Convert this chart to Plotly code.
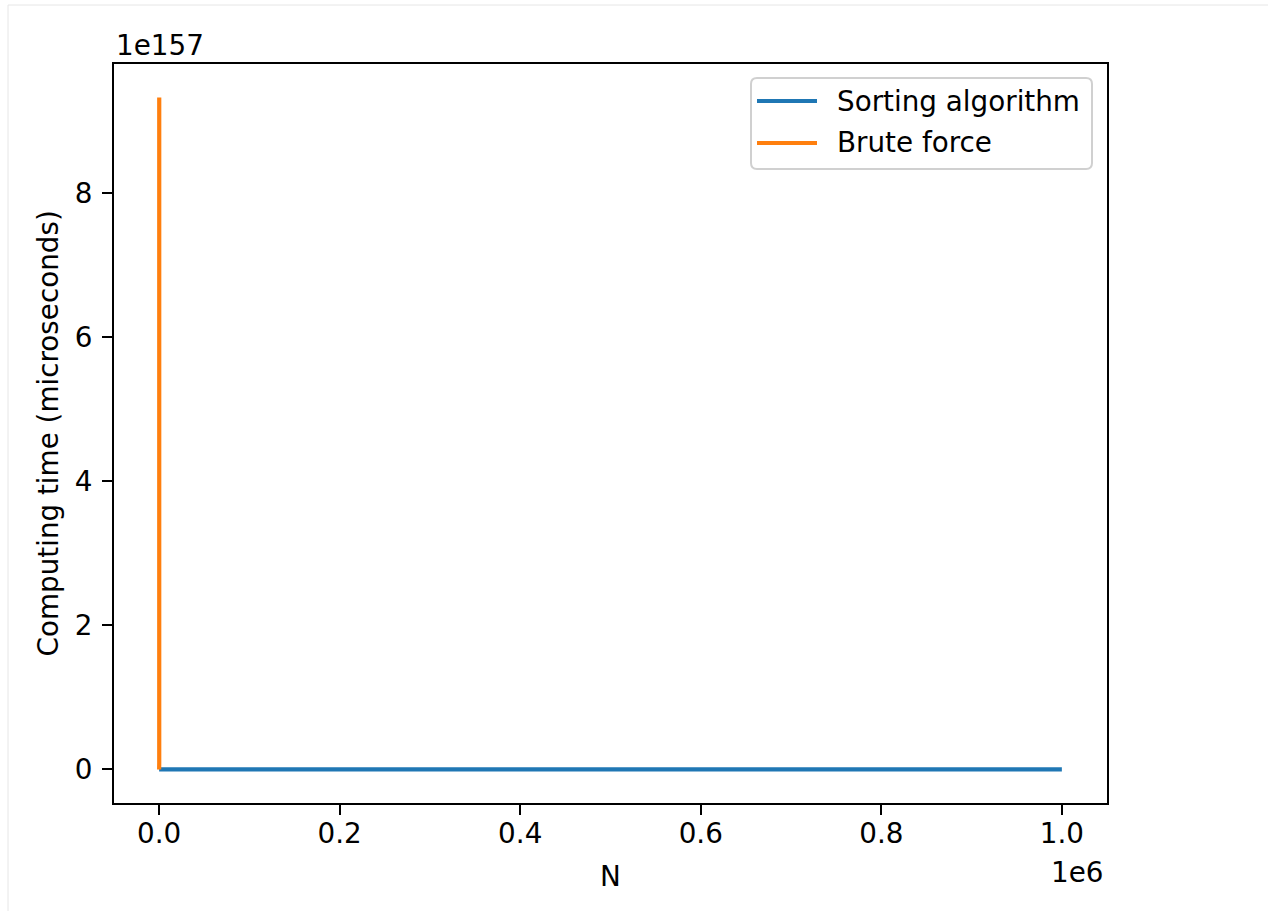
import plotly.graph_objects as go

# Problem sizes and measured computing times (microseconds)
sort_n = [1, 200000, 400000, 600000, 800000, 1000000]
sort_time = [0.0, 3.5e6, 7.4e6, 1.15e7, 1.57e7, 1.99e7]

brute_n = [1, 50, 99, 100]
brute_time = [1.0, 3.0e64, 9.33e155, 9.33e157]

series_names = ["Sorting algorithm", "Brute force"]

x_tick_vals = [0, 200000, 400000, 600000, 800000, 1000000]
x_tick_text = ["0.0", "0.2", "0.4", "0.6", "0.8", "1.0"]
y_tick_vals = [0, 2e157, 4e157, 6e157, 8e157]
y_tick_text = ["0", "2", "4", "6", "8"]

W, H = 1268, 911
PL, PR, PT, PB = 114, 1107, 64, 803  # plot-area edges in pixels

FONT = dict(family="DejaVu Sans", size=27.8, color="black")
COLORS = ["#1f77b4", "#ff7f0e"]


def px_x(px):
    return (px - PL) / (PR - PL)


def px_y(py):
    return (PB - py) / (PB - PT)


fig = go.Figure()
fig.add_trace(go.Scatter(x=sort_n, y=sort_time, mode="lines", name=series_names[0],
                         line=dict(color=COLORS[0], width=4.2), showlegend=False))
fig.add_trace(go.Scatter(x=brute_n, y=brute_time, mode="lines", name=series_names[1],
                         line=dict(color=COLORS[1], width=4.2), showlegend=False))

y_max = max(brute_time)
axis_common = dict(showgrid=False, zeroline=False, showline=True, linecolor="black",
                   linewidth=2, mirror=True, ticks="outside", ticklen=10, tickwidth=2,
                   tickcolor="black", tickfont=FONT)

# Legend box with rounded corners (pixel geometry converted to paper units)
bx0, bx1, by0, by1, rad = 751, 1092, 78, 169, 6
rx = rad / (PR - PL)
ry = rad / (PB - PT)
X0, X1, Y0, Y1 = px_x(bx0), px_x(bx1), px_y(by1), px_y(by0)
legend_path = (
    f"M {X0 + rx},{Y0} L {X1 - rx},{Y0} Q {X1},{Y0} {X1},{Y0 + ry} "
    f"L {X1},{Y1 - ry} Q {X1},{Y1} {X1 - rx},{Y1} "
    f"L {X0 + rx},{Y1} Q {X0},{Y1} {X0},{Y1 - ry} "
    f"L {X0},{Y0 + ry} Q {X0},{Y0} {X0 + rx},{Y0} Z"
)

shapes = [
    dict(type="line", xref="paper", yref="paper", x0=px_x(8), x1=px_x(8),
         y0=px_y(5), y1=px_y(H), line=dict(color="#e6e6e6", width=1), layer="below"),
    dict(type="line", xref="paper", yref="paper", x0=px_x(8), x1=px_x(W),
         y0=px_y(5), y1=px_y(5), line=dict(color="#e6e6e6", width=1), layer="below"),
    dict(type="path", xref="paper", yref="paper", path=legend_path,
         fillcolor="rgba(255,255,255,0.8)", line=dict(color="#d0d0d0", width=2)),
]

annotations = [
    dict(text="1e157", xref="paper", yref="paper", x=0, y=1, xanchor="left",
         yanchor="middle", yshift=19, showarrow=False, font=FONT),
    dict(text="1e6", xref="paper", yref="paper", x=1, y=0, xanchor="right",
         yanchor="middle", xshift=-2, yshift=-69, showarrow=False, font=FONT),
    dict(text="N", xref="paper", yref="paper", x=0.5, y=0, xanchor="center",
         yanchor="middle", yshift=-73, showarrow=False, font=FONT),
    dict(text="Computing time (microseconds)", xref="paper", yref="paper", x=0, y=0.5,
         xanchor="center", yanchor="middle", xshift=-66, textangle=-90,
         showarrow=False, font=FONT),
]

row_y = [101, 143]
for name, color, ry_px in zip(series_names, COLORS, row_y):
    shapes.append(dict(type="line", xref="paper", yref="paper", x0=px_x(757), x1=px_x(817),
                       y0=px_y(ry_px), y1=px_y(ry_px), line=dict(color=color, width=4.2)))
    annotations.append(dict(text=name, xref="paper", yref="paper", x=px_x(835), y=px_y(ry_px),
                            xanchor="left", yanchor="middle", showarrow=False, font=FONT))

fig.update_layout(
    width=W, height=H,
    margin=dict(l=PL, r=W - PR, t=PT, b=H - PB),
    paper_bgcolor="white", plot_bgcolor="white",
    font=FONT,
    xaxis=dict(range=[-50000, 1050000], tickvals=x_tick_vals, ticktext=x_tick_text,
               ticklabelstandoff=-5, **axis_common),
    yaxis=dict(range=[-0.05 * y_max, 1.05 * y_max], tickvals=y_tick_vals, ticktext=y_tick_text,
               ticklabelstandoff=4, **axis_common),
    showlegend=False,
    annotations=annotations,
    shapes=shapes,
)

fig.write_html("out.html")
